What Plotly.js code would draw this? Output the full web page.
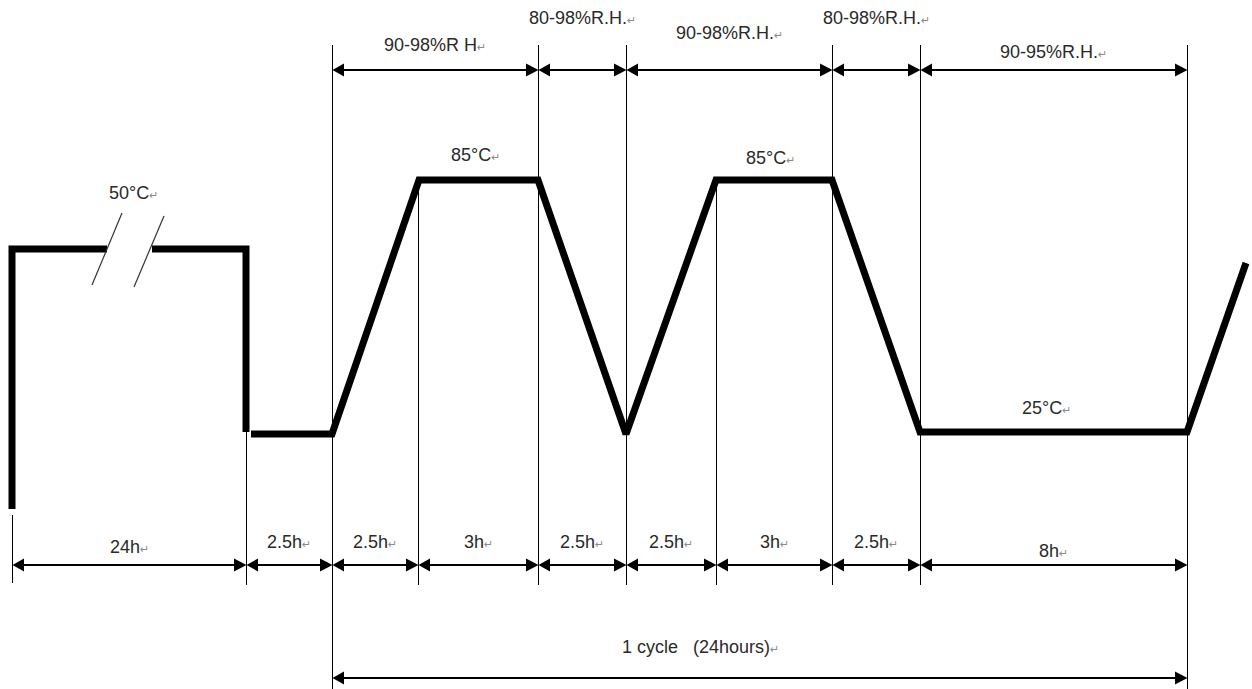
<!DOCTYPE html>
<html><head><meta charset="utf-8">
<script src="https://cdn.plot.ly/plotly-3.0.1.min.js"></script>
<style>html,body{margin:0;padding:0;background:#fff}#chart{width:1252px;height:689px}</style>
</head><body><div id="chart"></div>
<script>
// ---- data (schematic axis units) ----
// phase boundaries along the time axis and their durations
const phaseBounds = [12, 246, 332, 418, 538, 626, 716, 832, 920, 1187];
const phaseLabels = ['24h', '2.5h', '2.5h', '3h', '2.5h', '2.5h', '3h', '2.5h', '8h'];
// humidity bands
const rhBounds = [332, 538, 626, 832, 920, 1187];
const rhLabels = ['90-98%R H', '80-98%R.H.', '90-98%R.H.', '80-98%R.H.', '90-95%R.H.'];
// temperature profile (schematic levels: 249 = 50°C, 180 = 85°C, 433 = 25°C)
const preX1 = [12, 12, 107];
const preY1 = [509, 249, 249];
const preX2 = [152, 246, 246];
const preY2 = [249, 249, 432];
const cycX = [251, 332, 419, 538, 626, 716, 832, 920, 1187, 1246];
const cycY = [434, 434, 180, 180, 434, 180, 180, 432, 432, 263];
const tempLabels = ['50°C', '85°C', '85°C', '25°C'];
const tempAt = [[133, 193], [475, 155], [770, 158], [1046, 408]];
// one cycle
const cycleBounds = [332, 1187];
const cycleLabel = '1 cycle\u00a0\u00a0\u00a0(24hours)';

// ---- layout constants ----
const rhArrowY = 70, rhLabelY = [45, 18, 33, 18, 52];
const phArrowY = 565, phLabelY = [547, 542, 542, 542, 542, 542, 542, 542, 551];
const cycArrowY = 678, cycLabelY = 647, cycLabelX = 700;
const guideSpan = {12: [515, 583], 246: [432, 585], 332: [45, 689], 418: [180, 585],
  538: [45, 585], 626: [45, 585], 716: [180, 585], 832: [45, 585], 920: [45, 585], 1187: [45, 689]};
const breakMarks = [[[122, 213], [92, 285]], [[164, 216], [134, 287]]];
const FONT = 'Liberation Sans, Arial, DejaVu Sans, sans-serif';
const RET = '<span style="font-size:11px;color:#8a8a8a">\u21b5</span>';

const shapes = [];
const annotations = [];
const HL = 12, HH = 6.5, P = 0.5;
function arrow(x0, x1, y) {
  shapes.push({type: 'line', x0: x0 + 2, x1: x1 - 2, y0: y, y1: y, line: {color: '#000', width: 2}});
  shapes.push({type: 'path', path: `M${x0 + P},${y} L${x0 + HL},${y - HH} L${x0 + HL},${y + HH} Z`, fillcolor: '#000', line: {width: 0}});
  shapes.push({type: 'path', path: `M${x1 + P},${y} L${x1 - HL},${y - HH} L${x1 - HL},${y + HH} Z`, fillcolor: '#000', line: {width: 0}});
}
function label(x, y, t) {
  annotations.push({x: x, y: y, xref: 'x', yref: 'y', text: t + RET, showarrow: false,
    xanchor: 'center', yanchor: 'middle', font: {family: FONT, size: 18, color: '#2a2a2a'}});
}
// guide lines
phaseBounds.forEach(b => {
  const s = guideSpan[b];
  shapes.push({type: 'line', x0: b + P, x1: b + P, y0: s[0], y1: s[1], line: {color: '#000', width: 1}});
});
// humidity arrows
for (let i = 0; i < rhLabels.length; i++) {
  arrow(rhBounds[i], rhBounds[i + 1], rhArrowY);
  label((rhBounds[i] + rhBounds[i + 1]) / 2, rhLabelY[i], rhLabels[i]);
}
// phase arrows
for (let i = 0; i < phaseLabels.length; i++) {
  arrow(phaseBounds[i], phaseBounds[i + 1], phArrowY);
  label((phaseBounds[i] + phaseBounds[i + 1]) / 2, phLabelY[i], phaseLabels[i]);
}
// cycle arrow
arrow(cycleBounds[0], cycleBounds[1], cycArrowY);
label(cycLabelX, cycLabelY, cycleLabel);
// temperature labels
tempLabels.forEach((t, i) => label(tempAt[i][0], tempAt[i][1], t));
// break marks
breakMarks.forEach(m => shapes.push({type: 'line', x0: m[0][0], y0: m[0][1], x1: m[1][0], y1: m[1][1], line: {color: '#333', width: 1.2}}));

const thick = {color: '#000', width: 7};
const traces = [
  {x: preX1, y: preY1, mode: 'lines', line: thick, hoverinfo: 'skip'},
  {x: preX2, y: preY2, mode: 'lines', line: thick, hoverinfo: 'skip'},
  {x: cycX, y: cycY, mode: 'lines', line: thick, hoverinfo: 'skip'}
];
const layout = {
  width: 1252, height: 689, margin: {l: 0, r: 0, t: 0, b: 0},
  paper_bgcolor: '#fff', plot_bgcolor: '#fff', showlegend: false,
  xaxis: {range: [0, 1252], visible: false, fixedrange: true},
  yaxis: {range: [689, 0], visible: false, fixedrange: true},
  shapes: shapes, annotations: annotations
};
Plotly.newPlot('chart', traces, layout, {displayModeBar: false, staticPlot: true});
</script></body></html>
